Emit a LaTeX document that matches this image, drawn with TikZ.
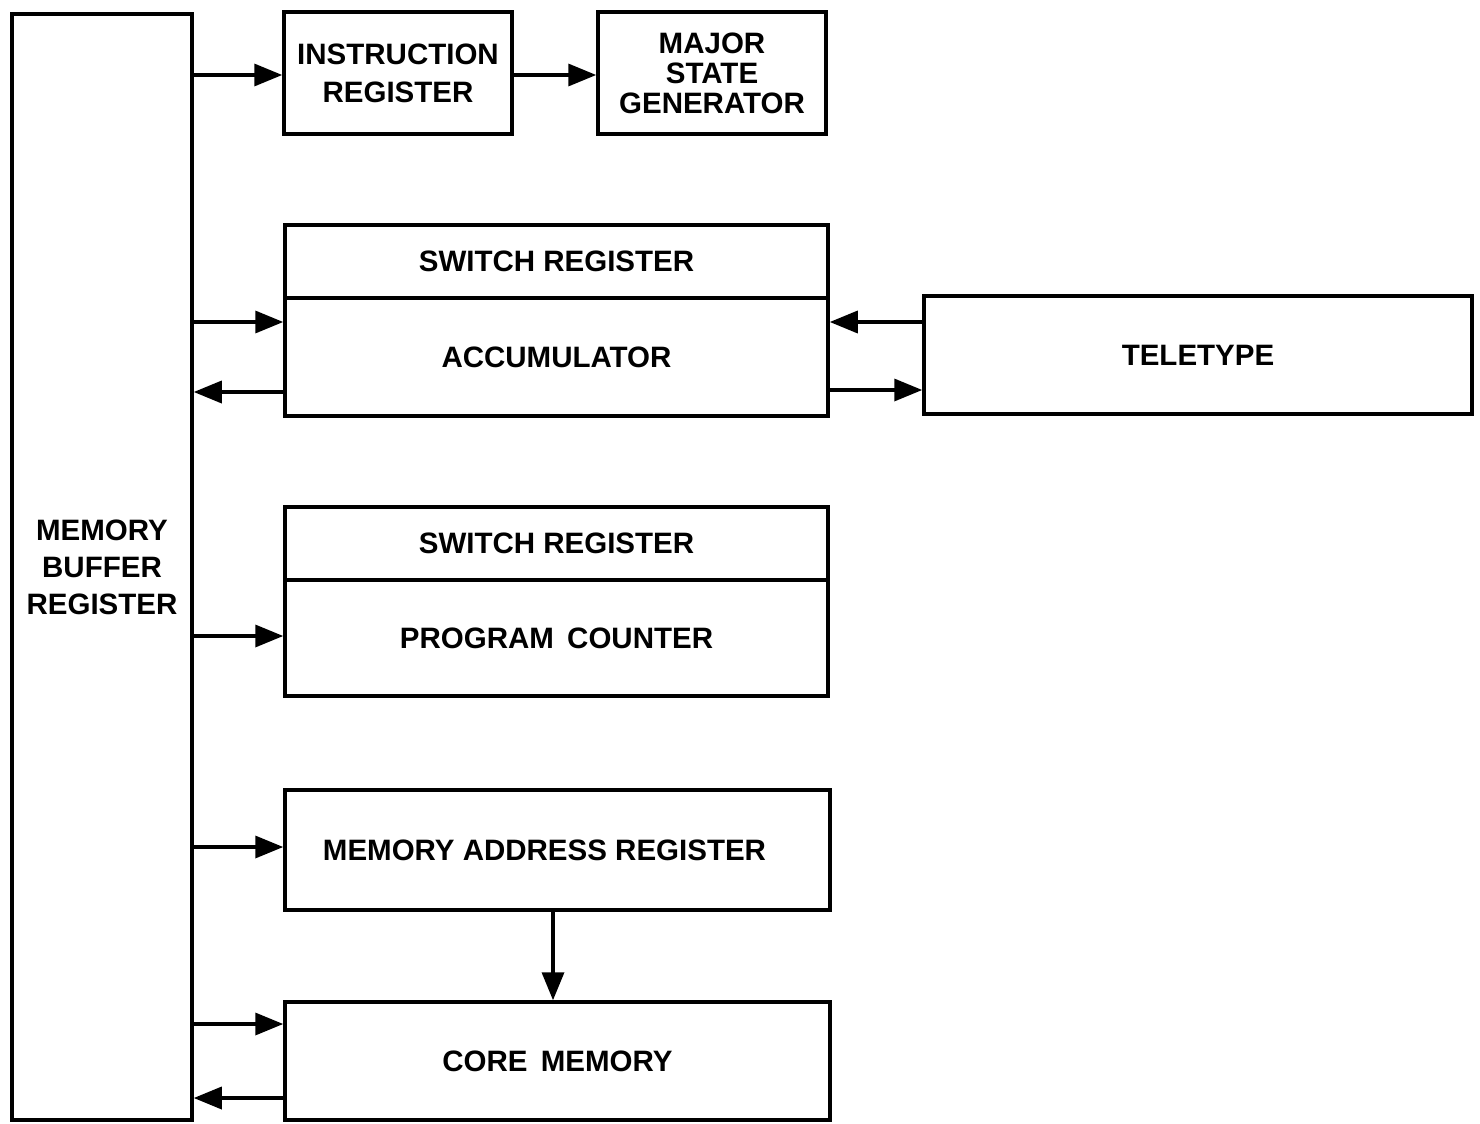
\documentclass[tikz,border=0pt]{standalone}
\usepackage{fontspec}
\setmainfont{Liberation Sans}
\usetikzlibrary{arrows.meta}
\begin{document}
\begin{tikzpicture}[x=1pt,y=-1pt,
  blk/.style={draw=black, line width=3.5pt, rectangle, inner sep=0pt, align=center,
    font=\fontsize{29.5}{37}\selectfont\bfseries},
  arr/.style={line width=3.5pt, -{Triangle[length=28pt,width=22pt]}}]
\useasboundingbox[fill=white] (0,0) rectangle (1480,1124);
% boxes
\node[blk, minimum width=180pt, minimum height=1106pt] (mbr) at (102,567) {MEMORY\\BUFFER\\REGISTER};
\node[blk, minimum width=228pt, minimum height=122pt, font=\fontsize{29.5}{38}\selectfont\bfseries] (ir) at (398,73) {INSTRUCTION\\REGISTER};
\node[blk, minimum width=228pt, minimum height=122pt, font=\fontsize{29.5}{30}\selectfont\bfseries] (msg) at (712,73) {MAJOR\\STATE\\GENERATOR};
\node[blk, minimum width=543pt, minimum height=73pt] (sw1) at (556.5,261.5) {SWITCH REGISTER};
\node[blk, minimum width=543pt, minimum height=118pt] (acc) at (556.5,357) {ACCUMULATOR};
\node[blk, minimum width=548pt, minimum height=118pt] (tty) at (1198,355) {TELETYPE};
\node[blk, minimum width=543pt, minimum height=73pt] (sw2) at (556.5,543.5) {SWITCH REGISTER};
\node[blk, minimum width=543pt, minimum height=116pt] (pc) at (556.5,638) {PROGRAM\hspace{0.45em}COUNTER};
\node[blk, minimum width=545pt, minimum height=120pt] (mar) at (557.5,850) {MEMORY ADDRESS REGISTER\hspace*{26pt}};
\node[blk, minimum width=545pt, minimum height=118pt] (core) at (557.5,1061) {CORE\hspace{0.45em}MEMORY};
% connectors
\draw[arr] (mbr.east |- 0,75) -- (ir.west |- 0,75);
\draw[arr] (ir.east |- 0,75) -- (msg.west |- 0,75);
\draw[arr] (mbr.east |- 0,322) -- (acc.west |- 0,322);
\draw[arr] (acc.west |- 0,392) -- (mbr.east |- 0,392);
\draw[arr] (tty.west |- 0,322) -- (acc.east |- 0,322);
\draw[arr] (acc.east |- 0,390) -- (tty.west |- 0,390);
\draw[arr] (mbr.east |- 0,636) -- (pc.west |- 0,636);
\draw[arr] (mbr.east |- 0,847) -- (mar.west |- 0,847);
\draw[arr] (mar.south -| 553,0) -- (core.north -| 553,0);
\draw[arr] (mbr.east |- 0,1024) -- (core.west |- 0,1024);
\draw[arr] (core.west |- 0,1098) -- (mbr.east |- 0,1098);
\end{tikzpicture}
\end{document}
